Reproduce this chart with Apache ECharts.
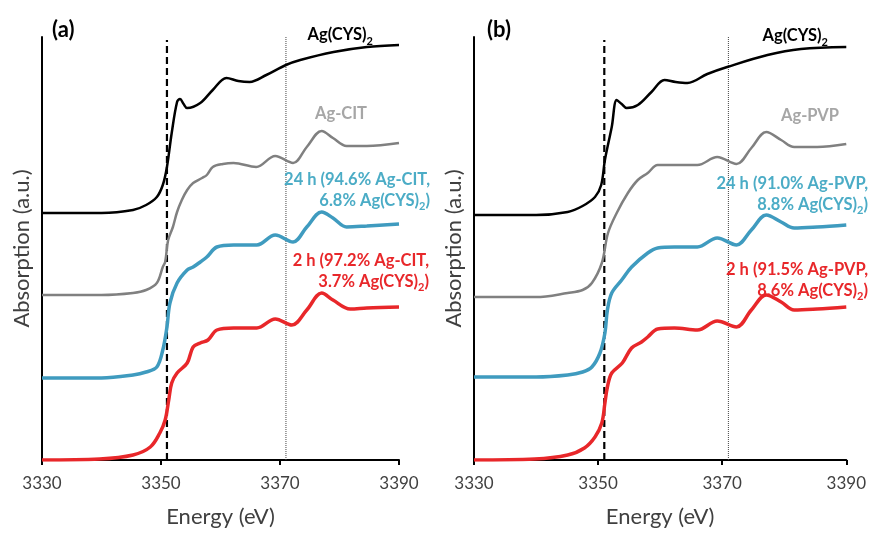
<!DOCTYPE html>
<html><head><meta charset="utf-8">
<script src="https://cdn.jsdelivr.net/npm/echarts@6/dist/echarts.min.js"></script>
<style>html,body{margin:0;padding:0;background:#fff}#c{width:869px;height:534px}</style>
</head><body><div id="c"></div>
<script>
// ---- Panel (a) data ----
const aBlackE = [3330,3340,3345.3,3347.5,3349.3,3350.3,3351,3351.8,3352.7,3353.2,3353.8,3354.4,3356.6,3358.7,3361,3363,3364.9,3367.7,3371,3373.4,3379,3384.6,3390];
const aBlackY = [2.47,2.47,2.50,2.55,2.63,2.75,2.93,3.27,3.58,3.61,3.56,3.52,3.57,3.70,3.82,3.79,3.78,3.85,3.95,4.00,4.08,4.13,4.15];
const aGrayE = [3330,3340,3345.3,3347.5,3349.3,3350.3,3350.7,3351.2,3352,3352.7,3353.5,3354.4,3355.4,3356.9,3357.7,3358.7,3360.4,3362.2,3366,3369.2,3372.2,3374.5,3377,3378.9,3381.2,3384.6,3390];
const aGrayY = [1.65,1.65,1.67,1.70,1.77,1.93,1.98,2.20,2.33,2.48,2.60,2.70,2.77,2.82,2.85,2.93,2.96,2.97,2.93,3.04,2.97,3.13,3.29,3.22,3.14,3.14,3.17];
const aBlueE = [3330,3340,3345.3,3347.5,3349.3,3350.3,3351,3351.5,3352.7,3354.4,3355.4,3356.6,3357.7,3359.4,3362.2,3366.1,3369.2,3372.2,3374.5,3377,3378.9,3381.2,3384.6,3390];
const aBlueY = [0.82,0.82,0.85,0.88,0.93,1.10,1.33,1.57,1.77,1.90,1.93,1.98,2.03,2.13,2.15,2.15,2.25,2.18,2.33,2.48,2.42,2.33,2.34,2.36];
const aRedE = [3330,3339.7,3345.3,3348.2,3349.8,3350.7,3351.3,3351.8,3352.7,3354.4,3355.4,3356.6,3357.9,3359.4,3362.2,3366.1,3369.2,3372,3374.5,3377,3378.9,3381.8,3384.6,3390];
const aRedY = [0,0.01,0.05,0.13,0.27,0.40,0.60,0.77,0.87,0.97,1.13,1.17,1.20,1.30,1.32,1.32,1.41,1.35,1.50,1.67,1.60,1.51,1.52,1.53];

// ---- Panel (b) data ----
const bBlackE = [3330,3340,3345.1,3347.5,3349.5,3350.5,3351.1,3352.2,3353,3353.8,3354.6,3356.4,3358.6,3360.7,3362.5,3364.4,3367.6,3370.8,3377.3,3382.7,3390];
const bBlackY = [2.45,2.45,2.48,2.54,2.63,2.75,3.00,3.33,3.60,3.56,3.52,3.55,3.68,3.80,3.78,3.77,3.86,3.93,4.05,4.11,4.13];
const bGrayE = [3330,3340,3345.1,3347.5,3349,3350.6,3351.6,3353,3354.8,3356.4,3358,3359.6,3362.3,3366,3369.2,3372.3,3374.7,3377.1,3379.5,3381.6,3385.3,3390];
const bGrayY = [1.63,1.63,1.67,1.70,1.77,1.97,2.27,2.47,2.67,2.80,2.87,2.95,2.95,2.95,3.03,2.96,3.12,3.28,3.20,3.13,3.13,3.16];
const bBlueE = [3330,3340,3345.1,3347.5,3349,3350.3,3351.1,3351.5,3352.2,3353.8,3355.4,3358,3359.6,3362.3,3366,3369.2,3372.3,3374.7,3377.1,3379.5,3381.6,3385.3,3390];
const bBlueY = [0.83,0.83,0.85,0.88,0.93,1.07,1.27,1.50,1.67,1.80,1.93,2.07,2.12,2.13,2.13,2.22,2.15,2.30,2.45,2.38,2.32,2.33,2.35];
const bRedE = [3330,3339.8,3345.1,3347.8,3349.5,3350.6,3351.1,3351.5,3352.2,3353.9,3355.4,3357,3358,3359.6,3362.3,3366,3369.2,3372.3,3374.7,3377.1,3379.5,3381.6,3385.3,3390];
const bRedY = [0,0.01,0.05,0.12,0.23,0.37,0.57,0.73,0.87,0.97,1.12,1.18,1.23,1.31,1.32,1.30,1.39,1.33,1.50,1.65,1.58,1.50,1.51,1.53];

// reference lines
const dashedE = 3351;
const dottedE = 3371;
const refLineY = [0, 4.2];
const dottedY = [0, 4.23];

// axis
const xTicks = [3330, 3350, 3370, 3390];
const xTickStep = 20;

const FONT = 'Lato';
const pair = (xs, ys) => xs.map((x, i) => [x, ys[i]]);

function curve(idx, xs, ys, color, width) {
  return { type: 'line', xAxisIndex: idx, yAxisIndex: idx, data: pair(xs, ys), smooth: 0.35,
    showSymbol: false, symbol: 'none', lineStyle: { color: color, width: width }, z: 3, silent: true };
}
function vline(idx, xv, ys, color, width, type) {
  return { type: 'line', xAxisIndex: idx, yAxisIndex: idx, data: ys.map(y => [xv, y]),
    showSymbol: false, symbol: 'none', lineStyle: { color: color, width: width, type: type }, z: 2, silent: true };
}
function xAx(idx) {
  return { type: 'value', gridIndex: idx, min: xTicks[0], max: xTicks[xTicks.length - 1], interval: xTickStep,
    splitLine: { show: false },
    axisLine: { lineStyle: { color: '#000', width: 2 } },
    axisTick: { show: true, length: 5, inside: false, lineStyle: { color: '#000', width: 2 } },
    axisLabel: { fontFamily: FONT, fontSize: 17, color: '#404040', margin: 15, formatter: v => String(v) },
    name: 'Energy (eV)', nameLocation: 'middle', nameGap: 46,
    nameTextStyle: { fontFamily: FONT, fontSize: 22, color: '#404040' } };
}
function yAx(idx) {
  return { type: 'value', gridIndex: idx, min: 0, max: 4.23,
    splitLine: { show: false }, axisTick: { show: false }, axisLabel: { show: false },
    axisLine: { show: true, lineStyle: { color: '#000', width: 2 } },
    name: 'Absorption (a.u.)', nameLocation: 'middle', nameGap: 9,
    nameTextStyle: { fontFamily: FONT, fontSize: 22, color: '#404040' } };
}
const richBase = (color) => ({
  t: { fontFamily: FONT, fontSize: 16.5, fontWeight: 'bold', fill: color, lineHeight: 21, verticalAlign: 'bottom', padding: [0, 0, 3, 0] },
  s: { fontFamily: FONT, fontSize: 11, fontWeight: 'bold', fill: color, lineHeight: 2, verticalAlign: 'bottom' }
});
function label(x, y, text, color, align, vAlign) {
  return { type: 'text', x: x, y: y, z: 10, silent: true,
    style: { text: text, rich: richBase(color), fill: color, align: align, verticalAlign: vAlign || 'middle' } };
}
const cBlack = '#000000', cGray = '#808080', cBlue = '#3f9bbf', cRed = '#e8272a';
const tGray = '#a6a6a6', tBlue = '#4bacc6', tRed = '#e8272a';

const chart = echarts.init(document.getElementById('c'), null, { renderer: 'canvas' });
chart.setOption({
  animation: false,
  backgroundColor: '#fff',
  grid: [
    { left: 42, right: 470, top: 37, bottom: 74 },
    { left: 474, right: 22, top: 37, bottom: 74 }
  ],
  xAxis: [xAx(0), xAx(1)],
  yAxis: [yAx(0), yAx(1)],
  series: [
    vline(0, dashedE, refLineY, '#000', 2.2, [7, 4]), vline(0, dottedE, dottedY, '#444', 1, [1, 1]),
    curve(0, aBlackE, aBlackY, cBlack, 2.5), curve(0, aGrayE, aGrayY, cGray, 2.5),
    curve(0, aBlueE, aBlueY, cBlue, 3.5), curve(0, aRedE, aRedY, cRed, 3.5),
    vline(1, dashedE, refLineY, '#000', 2.2, [7, 4]), vline(1, dottedE, dottedY, '#444', 1, [1, 1]),
    curve(1, bBlackE, bBlackY, cBlack, 2.5), curve(1, bGrayE, bGrayY, cGray, 2.5),
    curve(1, bBlueE, bBlueY, cBlue, 3.5), curve(1, bRedE, bRedY, cRed, 3.5)
  ],
  graphic: [
    { type: 'text', x: 52, y: 30, style: { text: '(a)', fontFamily: FONT, fontSize: 22, fontWeight: 'bold', fill: '#000', verticalAlign: 'middle' } },
    { type: 'text', x: 487, y: 30, style: { text: '(b)', fontFamily: FONT, fontSize: 22, fontWeight: 'bold', fill: '#000', verticalAlign: 'middle' } },
    label(373, 36, '{t|Ag(CYS)}{s|2}', cBlack, 'right'),
    label(341, 115, '{t|Ag-CIT}', tGray, 'center'),
    label(430, 170, '{t|24 h (94.6% Ag-CIT,}\n{t|6.8% Ag(CYS)}{s|2}{t|)}', tBlue, 'right', 'top'),
    label(429, 251, '{t|2 h (97.2% Ag-CIT,}\n{t|3.7% Ag(CYS)}{s|2}{t|)}', tRed, 'right', 'top'),
    label(828, 37, '{t|Ag(CYS)}{s|2}', cBlack, 'right'),
    label(810, 117, '{t|Ag-PVP}', tGray, 'center'),
    label(868, 174, '{t|24 h (91.0% Ag-PVP,}\n{t|8.8% Ag(CYS)}{s|2}{t|)}', tBlue, 'right', 'top'),
    label(868, 260, '{t|2 h (91.5% Ag-PVP,}\n{t|8.6% Ag(CYS)}{s|2}{t|)}', tRed, 'right', 'top')
  ]
});
</script></body></html>
